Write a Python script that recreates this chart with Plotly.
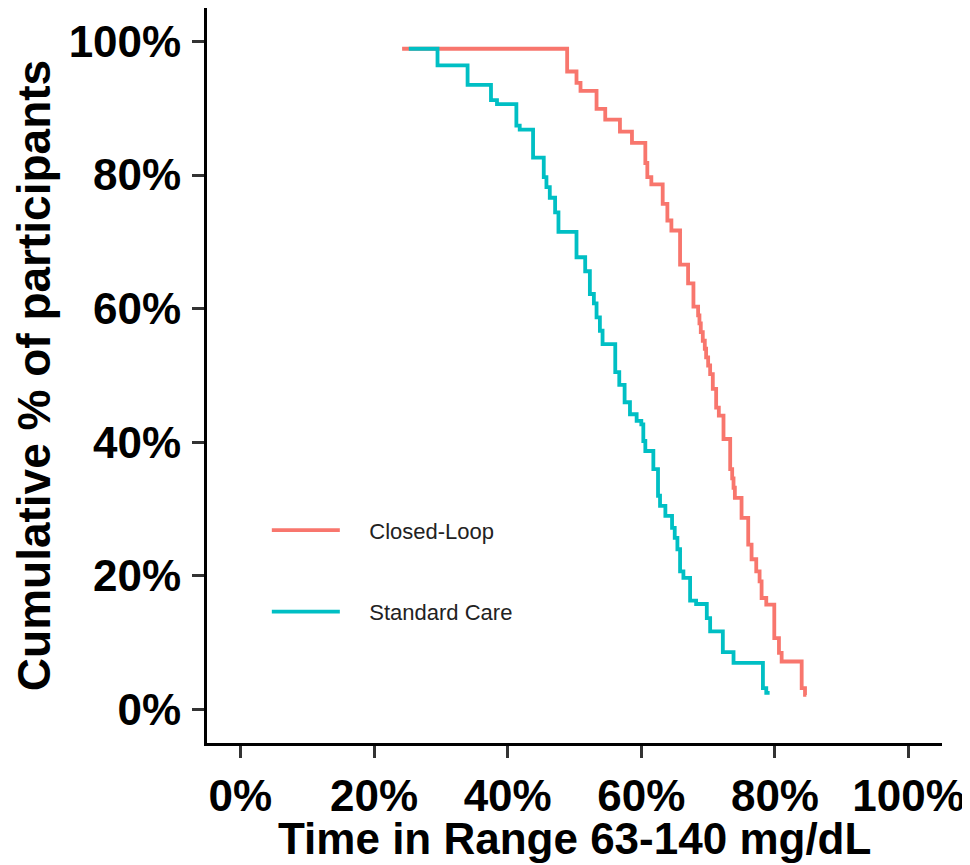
import plotly.graph_objects as go

# Time in range (%) at each step, and cumulative % of participants after the step
closed_loop_tir = [24.2, 48.9, 50.3, 50.9, 53.3, 54.6, 56.8, 58.6, 60.6, 60.9, 61.5, 63.2, 63.9, 64.5,
                   65.8, 67.0, 67.8, 68.5, 68.7, 68.9, 69.2, 69.5, 69.7, 70.0, 70.3, 70.7, 71.2, 71.6,
                   72.3, 73.3, 73.6, 73.8, 74.0, 75.0, 76.0, 76.5, 77.2, 77.7, 78.0, 78.7, 79.9, 80.6,
                   81.0, 84.0, 84.5, 84.7]
closed_loop_pct = [98.9, 95.5, 93.8, 92.6, 89.9, 88.3, 86.5, 84.8, 81.8, 79.7, 78.6, 75.7, 73.2, 71.7,
                   66.6, 63.8, 60.3, 59.0, 57.8, 56.5, 55.2, 54.0, 52.7, 51.5, 50.2, 48.0, 45.2, 44.0,
                   40.5, 36.0, 34.6, 33.2, 31.7, 28.7, 24.7, 22.5, 20.7, 19.2, 16.7, 15.7, 10.7, 8.5,
                   7.2, 3.2, 2.2, 2.2]

standard_care_tir = [25.2, 29.5, 34.0, 37.5, 38.4, 41.3, 41.8, 43.8, 45.4, 45.8, 46.3, 47.1, 47.6, 50.3,
                     51.6, 52.3, 52.9, 53.3, 53.8, 54.2, 56.1, 56.7, 57.5, 58.3, 59.3, 60.0, 60.3, 60.6,
                     61.8, 62.5, 62.8, 63.6, 64.6, 65.0, 65.4, 65.8, 66.3, 67.3, 68.2, 69.8, 70.3, 72.2,
                     73.8, 78.2, 78.7, 79.2]
standard_care_pct = [98.9, 96.4, 93.5, 91.2, 90.6, 87.4, 86.8, 82.6, 79.7, 78.2, 76.6, 74.4, 71.5, 67.7,
                     65.6, 62.2, 60.8, 58.7, 56.7, 54.7, 50.5, 48.6, 46.0, 44.2, 43.2, 42.7, 40.2, 38.7,
                     36.0, 32.0, 30.5, 29.0, 27.2, 25.7, 24.0, 20.7, 19.7, 16.3, 15.8, 13.7, 11.7, 8.6,
                     7.0, 3.2, 2.5, 2.5]

tick_vals = [0, 20, 40, 60, 80, 100]
tick_text = ["0%", "20%", "40%", "60%", "80%", "100%"]
series_names = ["Closed-Loop", "Standard Care"]

FONT = "Liberation Sans, Arial, sans-serif"
PAD = "\u00a0" * 4  # spacing between legend key and label

fig = go.Figure()
fig.add_trace(go.Scatter(x=closed_loop_tir, y=closed_loop_pct, mode="lines", line_shape="hv",
                         name=PAD + series_names[0], legendgroup="a",
                         line=dict(color="#F8766D", width=3.8)))
fig.add_trace(go.Scatter(x=standard_care_tir, y=standard_care_pct, mode="lines", line_shape="hv",
                         name=PAD + series_names[1], legendgroup="b",
                         line=dict(color="#00BFC4", width=3.8)))

axis_common = dict(
    showgrid=False, zeroline=False, showline=True, linecolor="black", linewidth=3,
    ticks="outside", ticklen=12, tickwidth=3, tickcolor="#333333",
    tickvals=tick_vals, ticktext=tick_text, range=[-5, 105],
    tickfont=dict(family=FONT, size=44, color="black", weight="bold"),
)

fig.update_layout(
    width=962, height=857,
    margin=dict(l=199, r=28, t=0, b=122),
    plot_bgcolor="white", paper_bgcolor="white",
    xaxis=dict(**axis_common),
    yaxis=dict(**axis_common, ticklabelstandoff=2,
               title=dict(text="Cumulative % of participants",
                          font=dict(family=FONT, size=46, color="black", weight="bold"),
                          standoff=9)),
    legend=dict(x=0.0814, y=0.318, xanchor="left", yanchor="top",
                bgcolor="rgba(0,0,0,0)", borderwidth=0,
                font=dict(family=FONT, size=22, color="#222222"),
                traceorder="grouped", tracegroupgap=50, itemwidth=68),
    showlegend=True,
    annotations=[dict(text="Time in Range 63-140 mg/dL", xref="paper", yref="paper",
                      x=0.5, y=-0.1306, xanchor="center", yanchor="middle", showarrow=False,
                      font=dict(family=FONT, size=44, color="black", weight="bold"))],
)

fig.write_html("out.html")
